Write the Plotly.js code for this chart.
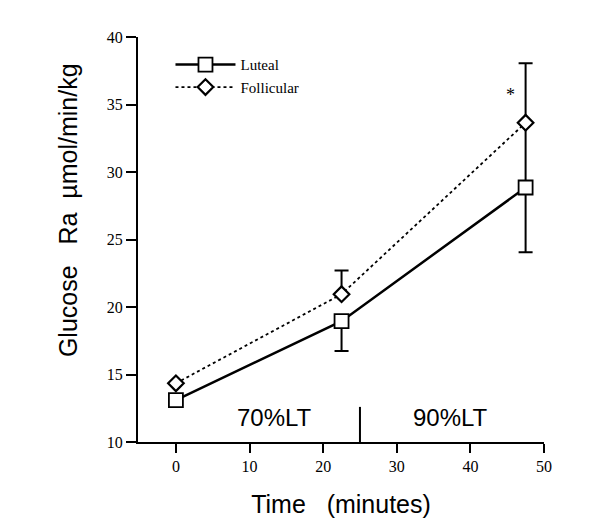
<!DOCTYPE html>
<html>
<head>
<meta charset="utf-8">
<script src="https://cdn.plot.ly/plotly-3.0.1.min.js"></script>
<style>
  body { margin: 0; background: #fff; }
  #chart { width: 613px; height: 530px; }
</style>
</head>
<body>
<div id="chart"></div>
<script>
// time points (minutes)
const times = [0, 22.5, 47.5];

// glucose Ra, umol/min/kg
const luteal = [13.1, 18.95, 28.85];
const follicular = [14.35, 20.95, 33.65];

// error bars
const lutealErrPlus = [0, 0, 4.8];
const lutealErrMinus = [0, 2.2, 4.8];
const follicularErrPlus = [0, 1.75, 4.4];
const follicularErrMinus = [0, 0, 0];

const phaseLabels = ['70%LT', '90%LT'];
const phaseX = [13.4, 37.3];
const phaseY = [11.85, 11.85];
const dividerX = 25;
const dividerTop = 12.6;

const sansFont = 'Liberation Sans, Arial, sans-serif';
const serifFont = 'Liberation Serif, Times New Roman, serif';
const sp = '\u00a0';

var lutealTrace = {
    x: times,
    y: luteal,
    name: 'Luteal',
    type: 'scatter',
    mode: 'lines+markers',
    line: { color: 'black', width: 2.5 },
    marker: { symbol: 'square', size: 14, color: 'white', line: { color: 'black', width: 1.8 } },
    error_y: {
        type: 'data', symmetric: false,
        array: lutealErrPlus, arrayminus: lutealErrMinus,
        color: 'black', thickness: 2, width: 7
    }
};

var follicularTrace = {
    x: times,
    y: follicular,
    name: 'Follicular',
    type: 'scatter',
    mode: 'lines+markers',
    line: { color: 'black', width: 1.8, dash: 'dot' },
    marker: { symbol: 'diamond', size: 12, color: 'white', line: { color: 'black', width: 2.2 } },
    error_y: {
        type: 'data', symmetric: false,
        array: follicularErrPlus, arrayminus: follicularErrMinus,
        color: 'black', thickness: 2, width: 7
    }
};

var annotations = phaseLabels.map((t, i) => ({
    x: phaseX[i], y: phaseY[i], xref: 'x', yref: 'y',
    text: t, showarrow: false,
    font: { family: sansFont, size: 24, color: 'black' }
}));
annotations.push({
    x: 45.4, y: 35.7, xref: 'x', yref: 'y',
    text: '*', showarrow: false,
    font: { family: serifFont, size: 18, color: 'black' }
});
// y axis title, set a little above the plot's centre like the original
annotations.push({
    x: -0.172, y: 0.573, xref: 'paper', yref: 'paper',
    xanchor: 'center', yanchor: 'middle',
    text: 'Glucose' + sp + sp + sp + 'Ra' + sp + sp + '\u00b5mol/min/kg',
    textangle: -90, showarrow: false,
    font: { family: sansFont, size: 25, color: 'black' }
});

var layout = {
    width: 613,
    height: 530,
    margin: { l: 138, r: 69, t: 37, b: 88 },
    paper_bgcolor: 'white',
    plot_bgcolor: 'white',
    showlegend: true,
    legend: {
        x: 0.08, y: 0.972, xanchor: 'left', yanchor: 'top',
        font: { family: serifFont, size: 15, color: 'black' },
        bgcolor: 'rgba(0,0,0,0)',
        tracegroupgap: 0,
        itemwidth: 60
    },
    xaxis: {
        range: [-5.15, 50],
        tickvals: [0, 10, 20, 30, 40, 50],
        ticks: 'outside', ticklen: 9, tickwidth: 2, tickcolor: 'black',
        showline: true, linecolor: 'black', linewidth: 2,
        showgrid: false, zeroline: false,
        tickfont: { family: serifFont, size: 16, color: 'black' },
        title: { text: 'Time' + sp + sp + sp + '(minutes)', font: { family: sansFont, size: 25, color: 'black' }, standoff: 21 }
    },
    yaxis: {
        range: [10, 40],
        tickvals: [10, 15, 20, 25, 30, 35, 40],
        ticks: 'outside', ticklen: 10, tickwidth: 2, tickcolor: 'black',
        showline: true, linecolor: 'black', linewidth: 2,
        showgrid: false, zeroline: false,
        tickfont: { family: serifFont, size: 16, color: 'black' }
    },
    shapes: [{
        type: 'line', xref: 'x', yref: 'y',
        x0: dividerX, x1: dividerX, y0: 10, y1: dividerTop,
        line: { color: 'black', width: 2 }
    }],
    annotations: annotations
};

Plotly.newPlot('chart', [lutealTrace, follicularTrace], layout, { staticPlot: true });
</script>
</body>
</html>
